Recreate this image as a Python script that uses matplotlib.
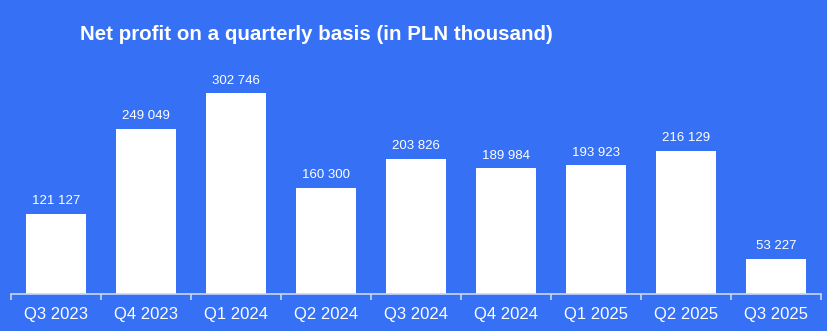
import matplotlib
matplotlib.use("Agg")
import matplotlib.pyplot as plt
import numpy as np

plt.rcParams['font.family'] = ['Liberation Sans', 'DejaVu Sans']

quarters = ['Q3 2023', 'Q4 2023', 'Q1 2024', 'Q2 2024', 'Q3 2024',
            'Q4 2024', 'Q1 2025', 'Q2 2025', 'Q3 2025']
net_profit = [121127, 249049, 302746, 160300, 203826, 189984, 193923, 216129, 53227]

bg = '#3570f5'
axis_col = '#c9d6f5'

fig = plt.figure(figsize=(8.27, 3.31), dpi=100, facecolor=bg)
ax = fig.add_axes([11 / 827, 37 / 331, 810 / 827, 234 / 331])
ax.set_facecolor(bg)

x = np.arange(len(quarters))
bars = ax.bar(x, net_profit, width=0.667, color='white', zorder=2)
for xi, v in zip(x, net_profit):
    label = f"{v:,}".replace(',', ' ')
    ax.annotate(label, (xi, v), xytext=(0, 4.5), textcoords='offset points',
                ha='center', va='bottom', color='white', fontsize=9.5)

ax.set_xlim(-0.5, len(quarters) - 0.5)
ax.set_ylim(0, 302746 * 234 / 201)

for s in ['top', 'right', 'left']:
    ax.spines[s].set_visible(False)
ax.spines['bottom'].set_color(axis_col)
ax.spines['bottom'].set_linewidth(1.2)
ax.set_yticks([])

ax.set_xticks(x)
ax.set_xticklabels(quarters, color='white', fontsize=12)
ax.tick_params(axis='x', length=0, pad=9)
ax.set_xticks(np.arange(len(quarters) + 1) - 0.5, minor=True)
ax.tick_params(axis='x', which='minor', length=4, color=axis_col, width=1.2)

fig.text(80 / 827, 1 - 34 / 331, 'Net profit on a quarterly basis (in PLN thousand)',
         color='white', fontsize=14.8, fontweight='bold', va='center', ha='left')

fig.savefig('out.png', dpi=100, facecolor=bg)
